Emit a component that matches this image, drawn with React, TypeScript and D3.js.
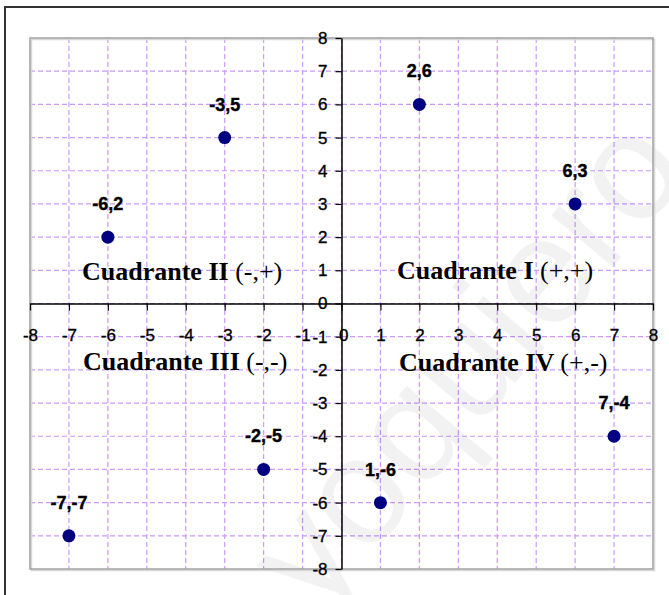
import React, { useRef, useEffect } from 'react';
import * as d3 from 'd3';

// points on the cartesian plane
const xs = [-6, -3, 2, 6, -7, -2, 1, 7];
const ys = [2, 5, 6, 3, -7, -5, -6, -4];
const pointLabels = ['-6,2', '-3,5', '2,6', '6,3', '-7,-7', '-2,-5', '1,-6', '7,-4'];

const tickValues = [-8, -7, -6, -5, -4, -3, -2, -1, 0, 1, 2, 3, 4, 5, 6, 7, 8];

const quadrantNames = ['Cuadrante I', 'Cuadrante II', 'Cuadrante III', 'Cuadrante IV'];
const quadrantSigns = ['(+,+)', '(-,+)', '(-,-)', '(+,-)'];
const quadrantX = [397, 82, 83, 399];
const quadrantY = [279, 280, 370, 371];

const App = () => {
    const svgRef = useRef<SVGSVGElement>(null);

    useEffect(() => {
        const svg = d3.select(svgRef.current);
        svg.selectAll('*').remove();

        const W = 669, H = 595;
        const plot = { left: 30, right: 653, top: 38, bottom: 569 };

        const x = d3.scaleLinear().domain([-8, 8]).range([plot.left, plot.right]);
        const y = d3.scaleLinear().domain([-8, 8]).range([plot.bottom, plot.top]);

        svg.append('rect').attr('width', W).attr('height', H).attr('fill', '#fff');

        // outer chart frame (only top and left visible)
        svg.append('path')
            .attr('d', `M5,${H} V7 H${W}`)
            .attr('fill', 'none')
            .attr('stroke', '#333')
            .attr('stroke-width', 2);

        // dashed grid
        const grid = svg.append('g')
            .attr('stroke', '#cc99ff')
            .attr('stroke-width', 1.2)
            .attr('stroke-dasharray', '5,3');
        grid.selectAll('.vg')
            .data(tickValues.slice(1, -1))
            .join('line')
            .attr('class', 'vg')
            .attr('x1', d => x(d)).attr('x2', d => x(d))
            .attr('y1', plot.top).attr('y2', plot.bottom);
        grid.selectAll('.hg')
            .data(tickValues.slice(1, -1))
            .join('line')
            .attr('class', 'hg')
            .attr('y1', d => y(d)).attr('y2', d => y(d))
            .attr('x1', plot.left).attr('x2', plot.right);

        // faint watermark
        svg.append('text')
            .attr('transform', 'translate(318,618) rotate(-50)')
            .style('font-family', '"Liberation Sans", Arial, sans-serif')
            .style('font-size', '152px')
            .attr('fill', '#000')
            .attr('fill-opacity', 0.05)
            .text('yoquiero');

        // plot area border with a light shadow
        svg.append('rect')
            .attr('x', plot.left + 1.5).attr('y', plot.top + 1.5)
            .attr('width', plot.right - plot.left).attr('height', plot.bottom - plot.top)
            .attr('fill', 'none').attr('stroke', '#d8d8d8').attr('stroke-width', 1.5);
        svg.append('rect')
            .attr('x', plot.left).attr('y', plot.top)
            .attr('width', plot.right - plot.left).attr('height', plot.bottom - plot.top)
            .attr('fill', 'none').attr('stroke', '#a0a0a0').attr('stroke-width', 1.5);

        const fmt = (d: any) => String(d);

        // x axis through y = 0
        const xAxis = svg.append('g')
            .attr('transform', `translate(0,${y(0)})`)
            .call(d3.axisBottom(x).tickValues(tickValues).tickFormat(fmt).tickSize(7).tickSizeOuter(0).tickPadding(18));
        // y axis through x = 0
        const yAxis = svg.append('g')
            .attr('transform', `translate(${x(0)},0)`)
            .call(d3.axisLeft(y).tickValues(tickValues).tickFormat(fmt).tickSize(6).tickSizeOuter(0).tickPadding(8));

        [xAxis, yAxis].forEach(a => {
            a.attr('font-size', 17).attr('font-family', '"Liberation Sans Narrow", "Liberation Sans", Arial, sans-serif');
            a.select('.domain').attr('stroke', '#000').attr('stroke-width', 1.5);
            a.selectAll('.tick line').attr('stroke', '#000').attr('stroke-width', 1.2);
            a.selectAll('.tick text')
                .attr('fill', '#000')
                .attr('stroke', '#000')
                .attr('stroke-width', 0.35);
        });
        xAxis.selectAll('.tick text').attr('dx', (d: any) => (d === 0 ? '0.1em' : '0'));

        // points
        const pts = xs.map((v, i) => ({ x: v, y: ys[i], label: pointLabels[i] }));
        svg.append('g')
            .selectAll('circle')
            .data(pts)
            .join('circle')
            .attr('cx', d => x(d.x))
            .attr('cy', d => y(d.y))
            .attr('r', 6.5)
            .attr('fill', '#000080');

        svg.append('g')
            .selectAll('text')
            .data(pts)
            .join('text')
            .attr('x', d => x(d.x))
            .attr('y', d => y(d.y) - 27)
            .attr('text-anchor', 'middle')
            .style('font-family', '"Liberation Sans", Arial, sans-serif')
            .style('font-size', '18px')
            .style('font-weight', 'bold')
            .attr('fill', '#000')
            .attr('stroke', '#000')
            .attr('stroke-width', 0.4)
            .text(d => d.label);

        // quadrant names
        const q = svg.append('g')
            .selectAll('text')
            .data(quadrantNames)
            .join('text')
            .attr('x', (d, i) => quadrantX[i])
            .attr('y', (d, i) => quadrantY[i])
            .style('font-family', '"Liberation Serif", "Times New Roman", serif')
            .style('font-size', '26px')
            .attr('fill', '#000');
        q.append('tspan').style('font-weight', 'bold').text(d => d + ' ');
        q.append('tspan').text((d, i) => quadrantSigns[i]);
    }, []);

    return (
        <svg ref={svgRef} width="669" height="595" style={{ position: 'absolute', left: 0, top: 0 }}></svg>
    );
};

export default App;
